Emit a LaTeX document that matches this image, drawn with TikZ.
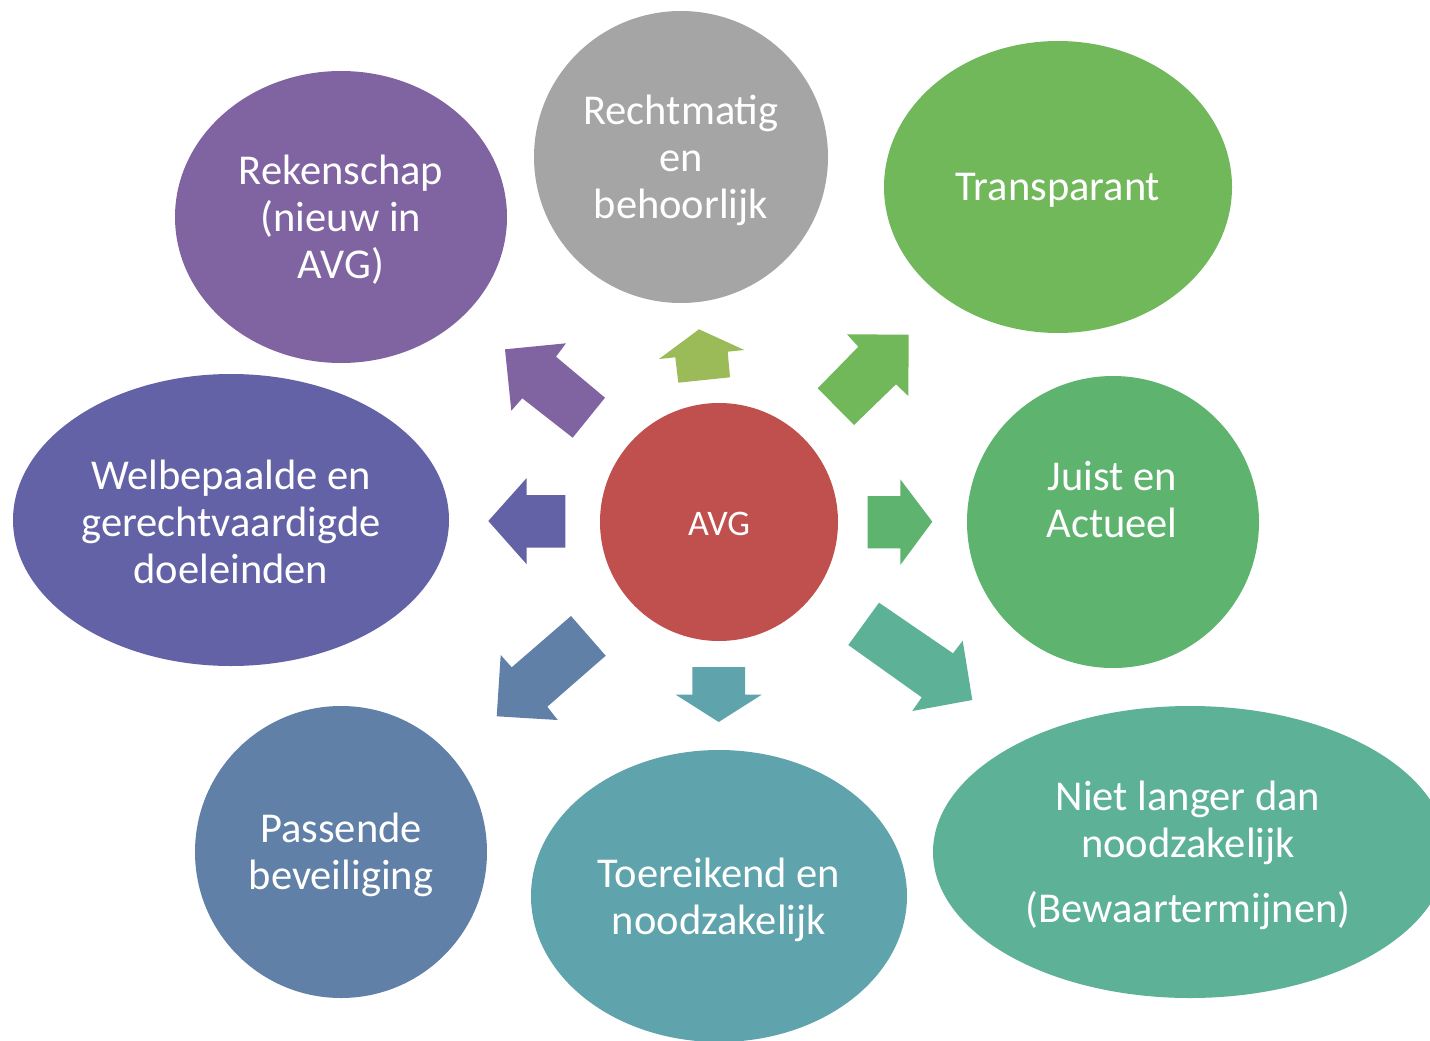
\documentclass[tikz,border=0pt]{standalone}
\usepackage{fontspec}
\setmainfont{Carlito}
\usetikzlibrary{shapes.geometric}
\definecolor{cPurple}{HTML}{8064A2}
\definecolor{cGray}{HTML}{A5A5A5}
\definecolor{cLime}{HTML}{9BBB59}
\definecolor{cGreenA}{HTML}{71B85B}
\definecolor{cGreenB}{HTML}{5EB36E}
\definecolor{cTealA}{HTML}{5CB196}
\definecolor{cTealB}{HTML}{5FA3AD}
\definecolor{cBlue}{HTML}{6080A8}
\definecolor{cIndigo}{HTML}{6462A6}
\definecolor{cRed}{HTML}{C0504D}
\tikzset{
  bubble/.style={ellipse, inner sep=0pt, draw=none},
  lbl/.style={text=white, align=center, font=\fontsize{42.5}{47}\selectfont},
  blockarrow/.style={draw=none}
}
\begin{document}
\begin{tikzpicture}[x=1pt,y=-1pt]
\useasboundingbox (0,0) rectangle (1430,1041);
\clip (0,0) rectangle (1430,1041);
% ellipses
\node[bubble, fill=cPurple, minimum width=332pt, minimum height=292pt] (rek) at (341,217) {};
\node[bubble, fill=cGray, minimum width=294pt, minimum height=292pt] (rec) at (681,157) {};
\node[bubble, fill=cGreenA, minimum width=348pt, minimum height=292pt] (tra) at (1058,187) {};
\node[bubble, fill=cGreenB, minimum width=292pt, minimum height=292pt] (jui) at (1113,522) {};
\node[bubble, fill=cTealA, minimum width=514pt, minimum height=292pt] (nie) at (1190,852) {};
\node[bubble, fill=cTealB, minimum width=376pt, minimum height=292pt] (toe) at (719,896) {};
\node[bubble, fill=cBlue, minimum width=292pt, minimum height=292pt] (pas) at (341,852) {};
\node[bubble, fill=cIndigo, minimum width=436pt, minimum height=292pt] (wel) at (231,520) {};
\node[circle, fill=cRed, minimum size=238pt, inner sep=0pt] (avg) at (719,522) {};
% texts
\node[lbl] (trek) at (341,220) {Rekenschap\\(nieuw in\\AVG)};
\node[lbl] (trec) at (681,160) {Rechtmatig\\en\\behoorlijk};
\node[lbl] (ttra) at (1058,190) {Transparant};
\node[lbl] (tjui) at (1112,500) {Juist en\\Actueel};
\node[lbl] (tnie) at (1188,855) {Niet langer dan\\noodzakelijk\\[18pt](Bewaartermijnen)};
\node[lbl] (ttoe) at (719,900) {Toereikend en\\noodzakelijk};
\node[lbl] (tpas) at (341,855) {Passende\\beveiliging};
\node[lbl] (twel) at (231,522) {Welbepaalde en\\gerechtvaardigde\\doeleinden};
\node[text=white, font=\fontsize{36}{40}\selectfont] (tavg) at (719,524) {AVG};
% block arrows
\fill[cPurple] (505,349.3) -- (566,343.3) -- (556,356.7) -- (605,397.7) -- (572.7,437.7) -- (522.3,398.3) -- (511.3,410.7) -- cycle;
\fill[cLime] (659,359) -- (699,329.3) -- (744.3,350) -- (727.7,351.7) -- (730,377.3) -- (678.3,382.7) -- (675.3,357.3) -- cycle;
\fill[cGreenA] (817.7,388.3) -- (858.3,346.7) -- (847,334.3) -- (908.7,334.7) -- (908.3,396) -- (896,384.3) -- (854,425) -- cycle;
\fill[cGreenB] (867.7,496) -- (900.3,496) -- (900.3,479.3) -- (932.3,521.7) -- (900.3,565) -- (900.3,548.3) -- (867.7,548.3) -- cycle;
\fill[cTealA] (879,602.7) -- (953,653.3) -- (962.7,640.7) -- (972.3,700) -- (912.3,711) -- (921.7,697.3) -- (848.3,645) -- cycle;
\fill[cTealB] (692.3,667) -- (745,667) -- (745,694.7) -- (761.7,694.7) -- (718.7,722) -- (675.7,694.7) -- (692.3,694.7) -- cycle;
\fill[cBlue] (571,616) -- (605.7,655.7) -- (547.3,706.7) -- (557.7,720) -- (496.7,716.3) -- (500.7,655) -- (511.7,667.3) -- cycle;
\fill[cIndigo] (488.3,521) -- (526.7,478) -- (526.7,495) -- (565.3,495) -- (565.3,547.7) -- (526.7,547.7) -- (526.7,564.3) -- cycle;
\end{tikzpicture}
\end{document}
